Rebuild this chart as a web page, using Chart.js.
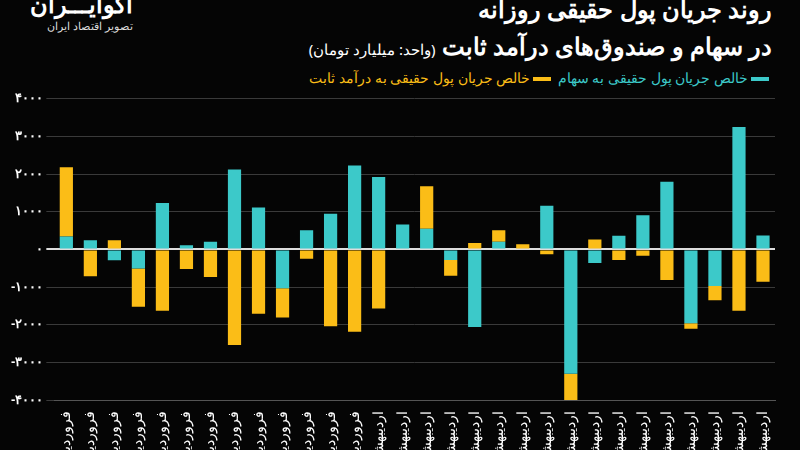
<!DOCTYPE html>
<html>
<head>
<meta charset="utf-8">
<script src="https://cdn.jsdelivr.net/npm/chart.js@4"></script>
<style>
  body { margin: 0; background: #050505; width: 800px; height: 450px; overflow: hidden; font-family: 'Noto Sans', sans-serif; color: #fff; }
  #title { position: absolute; right: 28px; top: -10px; text-align: right; direction: rtl; font-weight: bold; font-size: 24px; line-height: 37px; }
  #title small { font-weight: normal; font-size: 15px; }
  #legend { position: absolute; right: 28px; top: 68px; direction: rtl; font-size: 14px; }
  #legend span.sw { display: inline-block; width: 18px; height: 4px; vertical-align: middle; margin: 0 3px; }
  #logo { position: absolute; left: 30px; top: -12px; direction: rtl; text-align: right; line-height: 1.3; }
  #logo .n { font-size: 24px; font-weight: bold; }
  #logo .s { font-size: 11px; color: #ddd; }
  #chart { position: absolute; left: 0; top: 88px; }
</style>
</head>
<body>
<div id="logo"><div class="n">آکوایـــران</div><div class="s">تصویر اقتصاد ایران</div></div>
<div id="title">روند جریان پول حقیقی روزانه<br>در سهام و صندوق‌های درآمد ثابت <small>(واحد: میلیارد تومان)</small></div>
<div id="legend"><span class="sw" style="background:#3cc9c9"></span><span style="color:#3cc9c9">خالص جریان پول حقیقی به سهام</span> <span class="sw" style="background:#fbbd17"></span><span style="color:#fbbd17">خالص جریان پول حقیقی به درآمد ثابت</span></div>
<canvas id="chart" width="800" height="362"></canvas>
<script>
var categories = [];
for (var i = 0; i < 13; i++) categories.push('فروردین');
for (var j = 0; j < 17; j++) categories.push('اردیبهشت');

var stockFlow = [340, 240, -290, -510, 1230, 110, 200, 2120, 1110, -1030, 510, 950, 2230, 1920,
  660, 550, -280, -2060, 200, 0, 1160, -3300, -360, 360, 910, 1800, -1960, -970, 3250, 370];
var fixedIncomeFlow = [1840, -710, 240, -1010, -1630, -520, -730, -2540, -1710, -780, -250, -2040, -2190, -1570,
  0, 1130, -420, 170, 310, 140, -130, -700, 260, -280, -170, -810, -150, -380, -1630, -860];

var faDigits = '۰۱۲۳۴۵۶۷۸۹';
function toFa(n) {
  return String(n).replace(/[0-9]/g, function (d) { return faDigits[+d]; });
}

new Chart(document.getElementById('chart'), {
  type: 'bar',
  data: {
    labels: categories,
    datasets: [
      { label: 'سهام', data: stockFlow, backgroundColor: '#3cc9c9', barPercentage: 1, categoryPercentage: 0.55 },
      { label: 'درآمد ثابت', data: fixedIncomeFlow, backgroundColor: '#fbbd17', barPercentage: 1, categoryPercentage: 0.55 }
    ]
  },
  options: {
    responsive: false,
    animation: false,
    layout: { padding: { left: 8, right: 25, top: 7 } },
    plugins: { legend: { display: false }, tooltip: { enabled: false } },
    scales: {
      x: {
        stacked: true,
        afterFit: function (s) { s.height = 50; },
        grid: { display: false },
        border: { color: '#555' },
        ticks: { color: '#fff', minRotation: 90, maxRotation: 90, autoSkip: false, font: { size: 14, family: 'Noto Sans' } }
      },
      y: {
        stacked: true,
        min: -4000, max: 4000,
        border: { display: false },
        grid: {
          color: function (c) { return c.tick.value === 0 ? '#ddd' : '#3a3a3a'; },
          lineWidth: function (c) { return c.tick.value === 0 ? 2 : 1; }
        },
        ticks: {
          stepSize: 1000, color: '#fff', font: { size: 13, weight: 'bold' },
          callback: function (v) { return v < 0 ? '-' + toFa(-v) : toFa(v); }
        }
      }
    }
  }
});
</script>
</body>
</html>
